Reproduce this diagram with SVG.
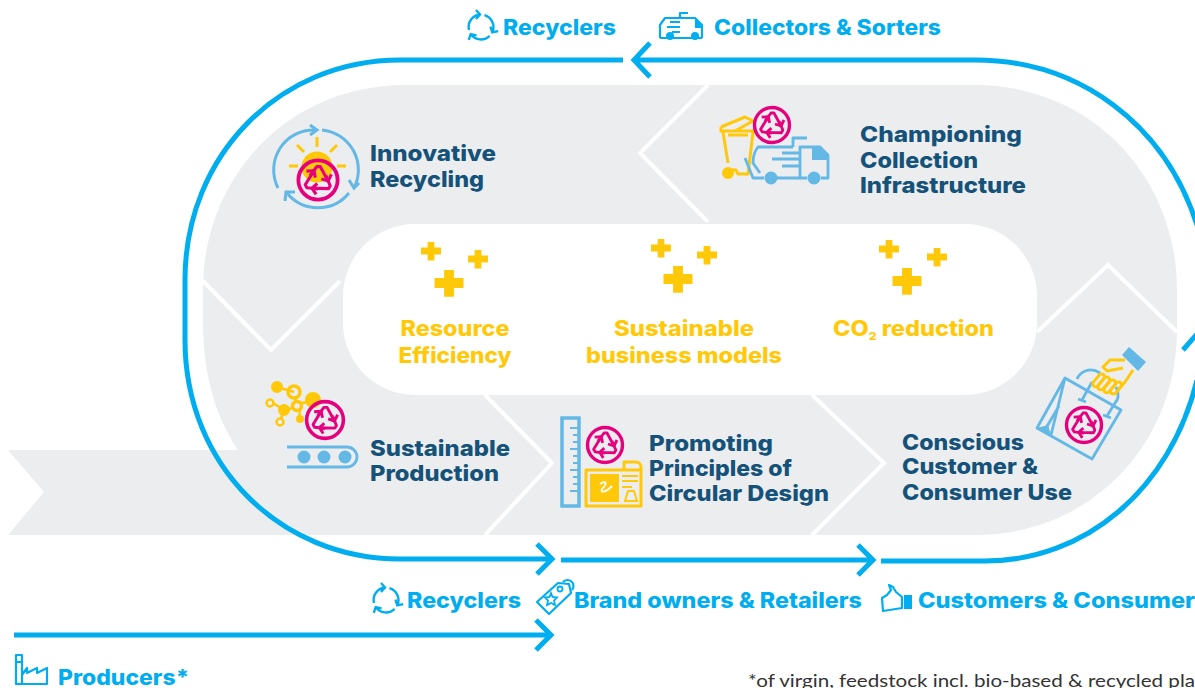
<svg xmlns="http://www.w3.org/2000/svg" xmlns:xlink="http://www.w3.org/1999/xlink" width="1195" height="688" viewBox="0 0 1195 688">
<style>
text{font-family:"Inter","Liberation Sans",sans-serif;font-weight:800}
.d{fill:#15527a;font-size:22px}
.y{fill:#ffc90a;font-size:21px}
.b{fill:#00aeef;font-size:21px}
.loop{fill:none;stroke:#00aeef;stroke-width:5}
.ln{fill:none;stroke:#63b8e6;stroke-width:2.8;stroke-linejoin:round}
.yl{fill:none;stroke:#ffc90a;stroke-width:3;stroke-linejoin:round}
.ic{fill:none;stroke:#00aeef;stroke-width:2.2;stroke-linejoin:round}
.gap{fill:none;stroke:#fff;stroke-width:4}
</style>
<defs>
<g id="badge"><circle r="17.5" fill="none" stroke="#e6007e" stroke-width="3.4"/>
<g fill="none" stroke="#e6007e" stroke-width="2.8" stroke-linejoin="round">
<path id="ra" d="M-7,-4 L-1,-12 L2,-12 L9,1 M3,-1 L9,1 L12,-5"/>
<use xlink:href="#ra" transform="rotate(120)"/><use xlink:href="#ra" transform="rotate(240)"/></g></g>
<g id="cyc" fill="none" stroke="#00aeef" stroke-width="2.4">
<path id="cy1" d="M-12,3 A12.5,12.5 0 0 1 -1,-12.5 M-5,-17 L-1,-12.5 L-5,-8"/>
<use xlink:href="#cy1" transform="rotate(120)"/><use xlink:href="#cy1" transform="rotate(240)"/></g>
<path id="plus" d="M-3.4,-9 H3.4 V-3.4 H10 V3.4 H3.4 V9.5 H-3.4 V3.4 H-10 V-3.4 H-3.4 Z" fill="#ffc90a"/>
</defs>
<rect width="1195" height="688" fill="#fff"/>
<g id="band">
<path d="M8,450 H238 C215,415 203,375 203,320 V290 C203,175 290,85 405,85 H975 C1090,85 1177,175 1177,290 V330 C1177,445 1090,535 975,535 H8 L44,492 Z" fill="#ecedef"/>
<g class="gap"><path d="M708,85 L640,153 L708,222"/><path d="M203,281 L271,350 L340,281"/><path d="M485,395 L552,463 L485,535"/><path d="M812,395 L884,463 L812,535"/><path d="M1037,332 L1108,265 L1177,332"/></g>
<rect x="343" y="224" width="694" height="171" rx="72" fill="#fff"/>
</g>
<g id="connectors">
<path class="loop" d="M623,60 H400 C280,60 185,155 185,280 V340 C185,465 280,559 400,559 H550"/>
<path class="loop" d="M537,544 L552,559 L537,574"/>
<path class="loop" d="M561,560 H873 M858,545 L873,560 L858,575"/>
<path class="loop" d="M881,561 H985 C1085,561 1170,490 1197,380"/>
<path class="loop" d="M634,60 H975 C1080,60 1165,125 1197,225 M650,43 L634,60 L650,77"/>
<path class="loop" d="M1183,350 L1197,334"/>
<path class="loop" d="M14,635 H550 M536,620 L551,635 L536,650"/>
</g>
<g id="plus-marks">
<use xlink:href="#plus" x="431" y="251"/><use xlink:href="#plus" x="478" y="259"/><use xlink:href="#plus" transform="translate(449 283) scale(1.45)"/>
<use xlink:href="#plus" x="661" y="248"/><use xlink:href="#plus" x="707" y="255"/><use xlink:href="#plus" transform="translate(678 279) scale(1.45)"/>
<use xlink:href="#plus" x="889" y="249"/><use xlink:href="#plus" x="937" y="257"/><use xlink:href="#plus" transform="translate(907 281) scale(1.45)"/>
</g>
<g id="benefit-resource"><text class="y" x="455" y="336" text-anchor="middle" textLength="109" lengthAdjust="spacingAndGlyphs">Resource</text><text class="y" x="455" y="363" text-anchor="middle" textLength="113" lengthAdjust="spacingAndGlyphs">Efficiency</text></g>
<g id="benefit-models"><text class="y" x="684" y="336" text-anchor="middle" textLength="140" lengthAdjust="spacingAndGlyphs">Sustainable</text><text class="y" x="684" y="363" text-anchor="middle" textLength="196" lengthAdjust="spacingAndGlyphs">business models</text></g>
<g id="benefit-co2"><text class="y" x="833" y="336" textLength="161" lengthAdjust="spacingAndGlyphs">CO<tspan font-size="11" dy="4">2</tspan><tspan dy="-4"> reduction</tspan></text></g>
<g id="node-innovative">
<g class="yl"><path d="M317,137 V147 M297,145 L304,152 M337,145 L330,152 M289,166 H298 M337,166 H346"/></g>
<circle cx="317" cy="167" r="15.5" fill="#ffc90a"/>
<g fill="none" stroke="#63b8e6" stroke-width="3"><path d="M278,188 A40,40 0 0 1 316,130 M310,125 L317,130 L310,135"/><path d="M322,130 A40,40 0 0 1 354,188 M349,180 L354,188 L359,183"/><path d="M349,193 A40,40 0 0 1 287,193 M285,201 L286,192 L295,192"/></g>
<use xlink:href="#badge" transform="translate(318 180) scale(1.12)"/>
<text class="d" x="370" y="161" textLength="126" lengthAdjust="spacingAndGlyphs">Innovative</text><text class="d" x="370" y="187" textLength="114" lengthAdjust="spacingAndGlyphs">Recycling</text>
</g>
<g id="node-collection">
<g class="yl"><path d="M721,127 L745,117 L753,121 L735,131 M721,127 V131 H754 M723,132 L728,163 M753,132 L748,174 H738 L736,170 H730 M728,135 H748"/></g>
<circle cx="728" cy="173" r="6" fill="#ffc90a"/>
<use xlink:href="#badge" transform="translate(772 125)"/>
<g class="ln"><path d="M745,158 L753,178 H764 M777,178 H807 M821,178 H828 V155 L820,147 H800 V178 M793,147 V138 H807 M793,147 H758 C754,152 753,158 753,163 L760,173 M782,153 H800 M772,159 H800 M782,166 H800"/></g>
<path d="M812,147 H820 L828,155 V160 H812 Z" fill="#63b8e6"/>
<circle cx="771" cy="178" r="6.5" fill="#63b8e6"/><circle cx="814" cy="178" r="6.5" fill="#63b8e6"/>
<text class="d" x="860" y="142" textLength="162" lengthAdjust="spacingAndGlyphs">Championing</text><text class="d" x="860" y="168" textLength="118" lengthAdjust="spacingAndGlyphs">Collection</text><text class="d" x="860" y="193" textLength="166" lengthAdjust="spacingAndGlyphs">Infrastructure</text>
</g>
<g id="node-production">
<g fill="none" stroke="#ffc90a" stroke-width="2.5"><path d="M277,387 L294,392 M294,398 L297,402 M273,403 L284,410 L293,408 M284,410 L281,419 M300,403 L311,402 M300,409 L299,419"/><circle cx="294" cy="392" r="6" stroke-width="3.5"/><circle cx="297" cy="406" r="4.5" stroke-width="3.5"/><circle cx="270" cy="403" r="3.5"/><circle cx="280" cy="422" r="3.5"/></g>
<g fill="#ffc90a"><circle cx="277" cy="387" r="6"/><circle cx="284" cy="410" r="6"/><circle cx="313" cy="400" r="8"/><circle cx="300" cy="419" r="4"/></g>
<use xlink:href="#badge" transform="translate(325 420) scale(1.05)"/>
<path d="M287,447 H347 A10,10 0 0 1 347,467 H287" fill="none" stroke="#63b8e6" stroke-width="2.8"/>
<circle cx="304" cy="457" r="6.5" fill="#63b8e6"/><circle cx="324" cy="457" r="6.5" fill="#63b8e6"/><circle cx="345" cy="457" r="6.5" fill="#63b8e6"/>
<text class="d" x="370" y="456" textLength="140" lengthAdjust="spacingAndGlyphs">Sustainable</text><text class="d" x="370" y="481" textLength="129" lengthAdjust="spacingAndGlyphs">Production</text>
</g>
<g id="node-design">
<rect x="562" y="418" width="17" height="88" fill="none" stroke="#63b8e6" stroke-width="3.5"/>
<path d="M570,428 H578 M573,435 H578 M573,442 H578 M570,449 H578 M573,456 H578 M573,463 H578 M570,470 H578 M573,477 H578 M573,484 H578 M570,491 H578" stroke="#63b8e6" stroke-width="2" fill="none"/>
<use xlink:href="#badge" transform="translate(605 445)"/>
<path class="yl" d="M586,506 V470 H624 V462 H636 A5,5 0 0 1 641,467 V506 Z M624,470 H641"/>
<rect x="590" y="474" width="29" height="28" fill="#ffc90a"/>
<path d="M600,484 C606,480 608,483 602,489 C600,493 605,493 612,486" fill="none" stroke="#fff" stroke-width="1.8"/>
<path d="M622,476 H638 M622,481 H638 M622,487 H632" stroke="#ffc90a" stroke-width="2" fill="none"/>
<path d="M628,491 L634,491 L637,501 H625 Z" fill="none" stroke="#ffc90a" stroke-width="2"/>
<text class="d" x="649" y="451" textLength="124" lengthAdjust="spacingAndGlyphs">Promoting</text><text class="d" x="649" y="476" textLength="143" lengthAdjust="spacingAndGlyphs">Principles of</text><text class="d" x="649" y="501" textLength="180" lengthAdjust="spacingAndGlyphs">Circular Design</text>
</g>
<g id="node-consumer">
<path class="ln" d="M1065,378 L1121,410 L1092,459 L1037,428 Z M1046,428 L1059,406 M1065,378 L1051,435 M1077,379 C1080,372 1090,366 1100,373 M1092,382 L1082,400 M1078,399 L1086,402 M1116,387 C1120,394 1118,400 1115,403 L1107,416 M1103,415 L1111,418"/>
<path d="M1037,428 L1048,425 L1051,435 Z" fill="#63b8e6"/>
<path d="M1122,355 L1129,347 L1146,362 L1138,371 Z" fill="#63b8e6"/>
<path class="yl" d="M1125,360 H1110 L1103,367 L1107,371 L1123,368 M1133,370 L1125,382 L1118,390"/>
<g class="yl" fill="none" stroke-width="2.6"><rect x="1096" y="373" width="6" height="15" rx="3" transform="rotate(40 1099 380)"/><rect x="1101" y="376" width="6" height="15" rx="3" transform="rotate(40 1104 383)"/><rect x="1107" y="379" width="6" height="15" rx="3" transform="rotate(40 1110 386)"/><rect x="1113" y="381" width="6" height="14" rx="3" transform="rotate(40 1116 388)"/></g>
<use xlink:href="#badge" transform="translate(1084 425)"/>
<text class="d" x="902" y="450" textLength="122" lengthAdjust="spacingAndGlyphs">Conscious</text><text class="d" x="902" y="474" textLength="136" lengthAdjust="spacingAndGlyphs">Customer &amp;</text><text class="d" x="902" y="500" textLength="170" lengthAdjust="spacingAndGlyphs">Consumer Use</text>
</g>
<g id="label-recyclers-top"><use xlink:href="#cyc" x="481" y="27"/><text class="b" x="503" y="35" textLength="113" lengthAdjust="spacingAndGlyphs">Recyclers</text></g>
<g id="label-collectors">
<path class="ic" d="M660,38 V25 L665,18 H680 V13 H688 M680,18 H695 L702,25 V38 M660,38 H702 M670,22 H680 M667,27 H680 M672,32 H680"/>
<path d="M695,18 L702,25 V28 H695 Z" fill="#00aeef"/>
<circle cx="670" cy="36" r="4" fill="#00aeef"/><circle cx="695" cy="36" r="4" fill="#00aeef"/>
<text class="b" x="714" y="35" textLength="227" lengthAdjust="spacingAndGlyphs">Collectors &amp; Sorters</text></g>
<g id="label-recyclers-bottom"><use xlink:href="#cyc" x="386" y="600"/><text class="b" x="407" y="608" textLength="114" lengthAdjust="spacingAndGlyphs">Recyclers</text></g>
<g id="label-brand">
<path class="ic" stroke-width="2" d="M537,602 L558,583 L569,584 L571,593 L549,614 Z M563,582 A6,6 0 0 1 572,590"/><circle cx="560" cy="589" r="2.5" fill="none" stroke="#00aeef" stroke-width="1.8"/><path fill="none" stroke="#00aeef" stroke-width="1.8" d="M551,593 L552.5,597 L557,597.5 L554,600.5 L555,605 L551,603 L547,605 L548,600.5 L545,597.5 L549.5,597 Z"/>
<text class="b" x="574" y="608" textLength="288" lengthAdjust="spacingAndGlyphs">Brand owners &amp; Retailers</text></g>
<g id="label-customers">
<path class="ic" d="M882,598 L887,595 L891,590 L889,585 L893,587 L896,592 L902,597 V608 L883,611 Z"/><rect x="904" y="595" width="8" height="14" fill="#00aeef"/>
<text class="b" x="918" y="608" textLength="277" lengthAdjust="spacingAndGlyphs">Customers &amp; Consumer</text></g>
<g id="label-producers">
<path class="ic" stroke-width="1.7" d="M16,655 H22 V684 H16 Z M16,662 H22 M22,675 L27,668 V673 L37,668 V673 L47,668 V684 H22"/>
<text class="b" x="58" y="685" textLength="131" lengthAdjust="spacingAndGlyphs">Producers*</text></g>
<text x="748" y="687" fill="#333" font-size="17" style="font-family:'Lato','Liberation Sans',sans-serif;font-weight:400" textLength="447" lengthAdjust="spacingAndGlyphs">*of virgin, feedstock incl. bio-based &amp; recycled pla</text>
</svg>
